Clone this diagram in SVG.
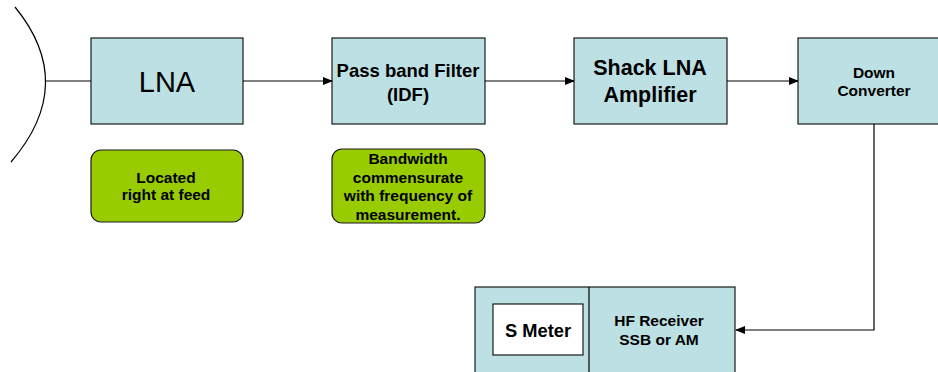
<svg xmlns="http://www.w3.org/2000/svg" width="938" height="372" viewBox="0 0 938 372">
<defs>
<style>
.box{fill:#bce0e3;stroke:#1a1a1a;stroke-width:1.2}
.note{fill:#99cc00;stroke:#1a1a1a;stroke-width:1.2}
.line{fill:none;stroke:#000;stroke-width:1.2}
text{font-family:"Liberation Sans",Arial,sans-serif;text-anchor:middle;fill:#000}
.b{font-weight:bold}
.s{font-size:15.5px}
</style>
<marker id="ah" markerWidth="10" markerHeight="8" refX="9" refY="4" orient="auto" markerUnits="userSpaceOnUse">
<path d="M0,0 L10,4 L0,8 z" fill="#000"/>
</marker>
</defs>
<rect width="938" height="372" fill="#fff"/>
<g id="antenna">
<path class="line" d="M15,7 Q78,84 11,162"/>
</g>
<g id="lna">
<rect class="box" x="91" y="38" width="152" height="86"/>
<text x="167" y="92" font-size="29">LNA</text>
</g>
<g id="note-lna">
<rect class="note" x="91" y="150" width="152" height="72" rx="10"/>
<text class="b s" x="166" y="183">Located</text>
<text class="b s" x="166" y="200">right at feed</text>
</g>
<g id="pbf">
<rect class="box" x="332" y="38" width="153" height="86"/>
<text class="b" x="408" y="77" font-size="18.5">Pass band Filter</text>
<text class="b" x="408" y="101" font-size="18.5">(IDF)</text>
</g>
<g id="note-pbf">
<rect class="note" x="332" y="149" width="153" height="74" rx="10"/>
<text class="b s" x="408" y="164">Bandwidth</text>
<text class="b s" x="408" y="183">commensurate</text>
<text class="b s" x="408" y="201">with frequency of</text>
<text class="b s" x="408" y="220">measurement.</text>
</g>
<g id="shack">
<rect class="box" x="574" y="38" width="153" height="86"/>
<text class="b" x="650" y="75" font-size="21.5">Shack LNA</text>
<text class="b" x="650" y="102" font-size="21.5">Amplifier</text>
</g>
<g id="down">
<rect class="box" x="798" y="38" width="152" height="86"/>
<text class="b s" x="874" y="78">Down</text>
<text class="b s" x="874" y="96">Converter</text>
</g>
<g id="receiver">
<rect class="box" x="475" y="287" width="260" height="100"/>
<line class="line" x1="589" y1="287" x2="589" y2="372"/>
<text class="b s" x="659" y="326">HF Receiver</text>
<text class="b s" x="659" y="345">SSB or AM</text>
</g>
<g id="smeter">
<rect x="493" y="304" width="90" height="51" fill="#fff" stroke="#1a1a1a" stroke-width="1.2"/>
<text class="b" x="538" y="337" font-size="18.3">S Meter</text>
</g>
<g id="connectors">
<line class="line" x1="46" y1="81" x2="91" y2="81"/>
<line class="line" x1="243" y1="81" x2="332" y2="81" marker-end="url(#ah)"/>
<line class="line" x1="485" y1="81" x2="574" y2="81" marker-end="url(#ah)"/>
<line class="line" x1="727" y1="81" x2="798" y2="81" marker-end="url(#ah)"/>
<polyline class="line" points="874,124 874,330 736,330" marker-end="url(#ah)"/>
</g>
</svg>
